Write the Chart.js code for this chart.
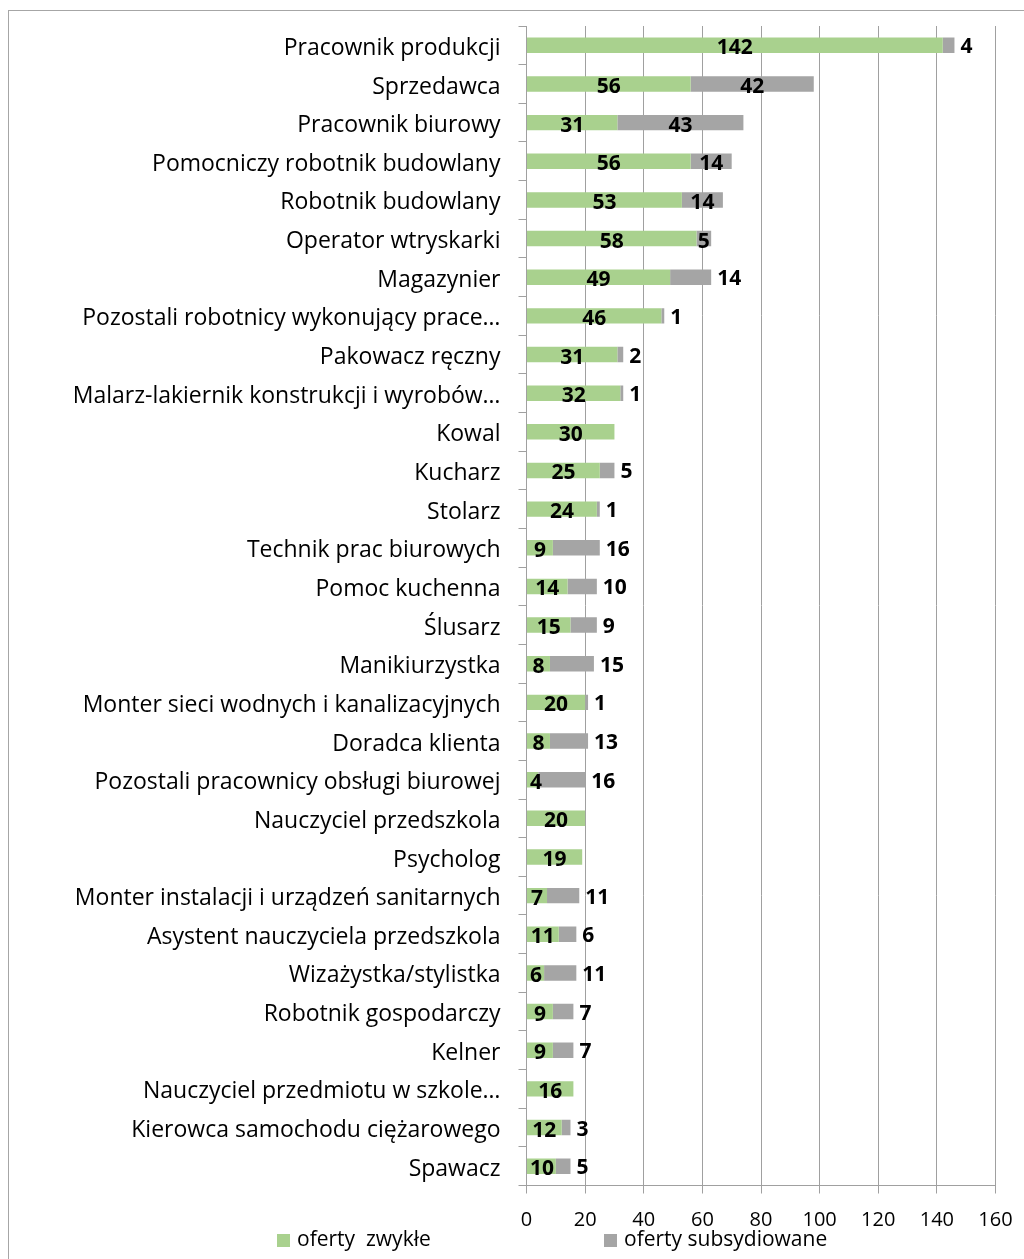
<!DOCTYPE html>
<html>
<head>
<meta charset="utf-8">
<script src="https://cdn.jsdelivr.net/npm/chart.js@4.4.1/dist/chart.umd.min.js"></script>
<style>
  html, body { margin: 0; padding: 0; background: #fff; }
  #wrap { position: relative; width: 1024px; height: 1259px; overflow: hidden; }
  #frame { position: absolute; left: 8px; top: 10px; width: 1100px; height: 1300px; border: 1px solid #a6a6a6; }
  canvas { position: absolute; left: 0; top: 0; }
</style>
</head>
<body>
<div id="wrap">
  <div id="frame"></div>
  <canvas id="ofertyChart" width="1024" height="1259"></canvas>
</div>
<script>
// zawody (kategorie)
const zawody = [
  "Pracownik produkcji",
  "Sprzedawca",
  "Pracownik biurowy",
  "Pomocniczy robotnik budowlany",
  "Robotnik budowlany",
  "Operator wtryskarki",
  "Magazynier",
  "Pozostali robotnicy wykonujący prace…",
  "Pakowacz ręczny",
  "Malarz-lakiernik konstrukcji i wyrobów…",
  "Kowal",
  "Kucharz",
  "Stolarz",
  "Technik prac biurowych",
  "Pomoc kuchenna",
  "Ślusarz",
  "Manikiurzystka",
  "Monter sieci wodnych i kanalizacyjnych",
  "Doradca klienta",
  "Pozostali pracownicy obsługi biurowej",
  "Nauczyciel przedszkola",
  "Psycholog",
  "Monter instalacji i urządzeń sanitarnych",
  "Asystent nauczyciela przedszkola",
  "Wizażystka/stylistka",
  "Robotnik gospodarczy",
  "Kelner",
  "Nauczyciel przedmiotu w szkole…",
  "Kierowca samochodu ciężarowego",
  "Spawacz"
];

// oferty zwykłe
const ofertyZwykle = [142, 56, 31, 56, 53, 58, 49, 46, 31, 32, 30, 25, 24, 9, 14, 15, 8, 20, 8, 4, 20, 19, 7, 11, 6, 9, 9, 16, 12, 10];

// oferty subsydiowane
const ofertySubsydiowane = [4, 42, 43, 14, 14, 5, 14, 1, 2, 1, 0, 5, 1, 16, 10, 9, 15, 1, 13, 16, 0, 0, 11, 6, 11, 7, 7, 0, 3, 5];

const osX = [0, 20, 40, 60, 80, 100, 120, 140, 160];

const FONT = "'Open Sans', sans-serif";

// etykiety danych na słupkach
const etykietyPlugin = {
  id: "etykiety",
  afterDatasetsDraw(chart) {
    const ctx = chart.ctx;
    ctx.save();
    ctx.font = "bold 21px " + FONT;
    ctx.fillStyle = "#000";
    ctx.textBaseline = "middle";
    ctx.textAlign = "center";
    const zielone = chart.getDatasetMeta(0).data;
    const szare = chart.getDatasetMeta(1).data;
    zielone.forEach((bar, i) => {
      const v = ofertyZwykle[i];
      if (!v) return;
      const txt = String(v);
      const w = ctx.measureText(txt).width;
      const start = bar.base;
      let x = (bar.x + start) / 2;
      if (x - w / 2 < start + 3) x = start + 3 + w / 2;
      ctx.fillText(txt, x, bar.y + 3);
    });
    szare.forEach((bar, i) => {
      const v = ofertySubsydiowane[i];
      if (!v) return;
      const txt = String(v);
      const zw = ofertyZwykle[i];
      if (v >= 30 || (zw >= 50 && v >= 5)) {
        ctx.fillText(txt, (bar.x + bar.base) / 2, bar.y + 3);
      } else {
        ctx.textAlign = "left";
        ctx.fillText(txt, bar.x + 6, bar.y + 2);
        ctx.textAlign = "center";
      }
    });
    ctx.restore();
  }
};

// legenda rysowana pod osią
const legendaPlugin = {
  id: "legenda",
  afterDraw(chart) {
    const ctx = chart.ctx;
    const pozycje = [277, 604];
    ctx.save();
    ctx.font = "21px " + FONT;
    ctx.textBaseline = "middle";
    ctx.textAlign = "left";
    chart.data.datasets.forEach((ds, i) => {
      const x = pozycje[i];
      const y = 1240;
      ctx.fillStyle = ds.backgroundColor;
      ctx.fillRect(x, y - 6, 13, 13);
      ctx.fillStyle = "#000";
      ctx.fillText(ds.label, x + 20, y);
    });
    ctx.restore();
  }
};

new Chart(document.getElementById("ofertyChart"), {
  type: "bar",
  data: {
    labels: zawody,
    datasets: [
      {
        label: "oferty  zwykłe",
        data: ofertyZwykle,
        backgroundColor: "#a9d18e",
        barPercentage: 0.4,
        categoryPercentage: 1.0
      },
      {
        label: "oferty subsydiowane",
        data: ofertySubsydiowane,
        backgroundColor: "#a5a5a5",
        barPercentage: 0.4,
        categoryPercentage: 1.0
      }
    ]
  },
  options: {
    indexAxis: "y",
    responsive: false,
    animation: false,
    layout: { padding: { top: 26, right: 28.5, bottom: 26.5, left: 0 } },
    plugins: {
      legend: { display: false },
      tooltip: { enabled: false }
    },
    scales: {
      x: {
        stacked: true,
        min: 0,
        max: 160,
        afterBuildTicks: (axis) => { axis.ticks = osX.map(v => ({ value: v })); },
        afterFit: (axis) => {
          axis.height = 47;
          axis.paddingLeft = 0;
          axis.paddingRight = 0;
        },
        grid: { color: "#a0a0a0", tickLength: 8, lineWidth: 1 },
        border: { color: "#a0a0a0" },
        ticks: { color: "#000", font: { family: FONT, size: 20 }, padding: 15, maxRotation: 0 }
      },
      y: {
        stacked: true,
        afterFit: (axis) => {
          axis.width = 526.5;
          axis.paddingTop = 0;
          axis.paddingBottom = 0;
        },
        grid: { drawOnChartArea: false, offset: true, tickLength: 8, color: "#a0a0a0" },
        border: { color: "#a0a0a0" },
        ticks: { color: "#000", font: { family: FONT, size: 23 }, padding: 18, labelOffset: 3, autoSkip: false }
      }
    }
  },
  plugins: [etykietyPlugin, legendaPlugin]
});
</script>
</body>
</html>
